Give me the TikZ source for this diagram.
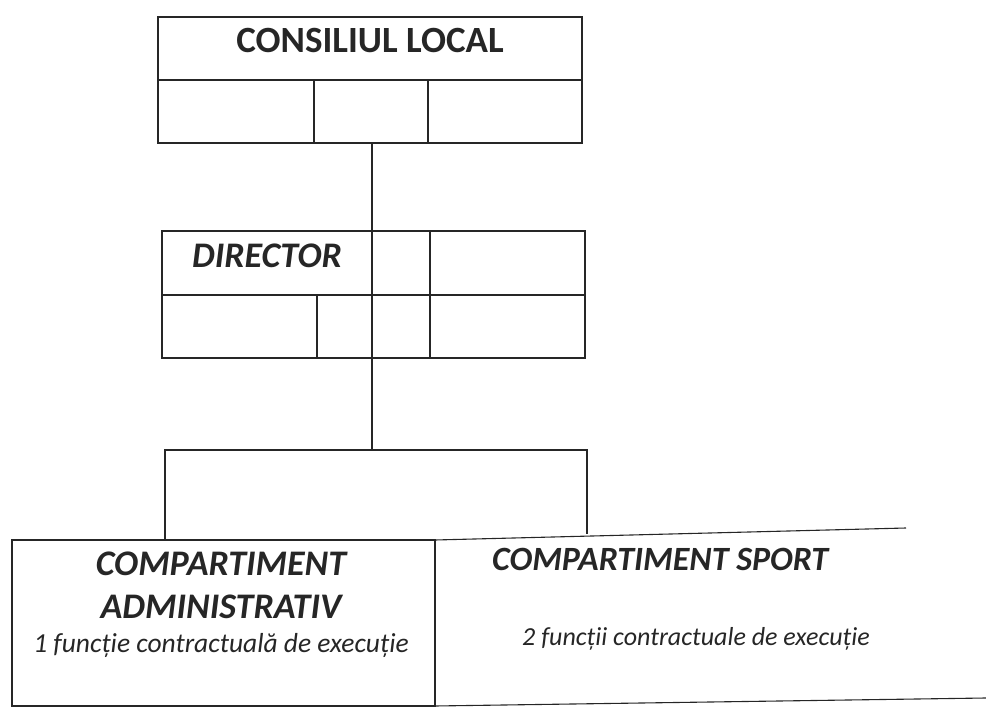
\documentclass[tikz,border=0pt]{standalone}
\usepackage{fontspec}
\setmainfont{Carlito}
\begin{document}
\begin{tikzpicture}[x=1pt,y=-1pt,
  ln/.style={line width=1.1pt, draw=black!85},
  box/.style={ln, rectangle, inner sep=0pt, outer sep=0pt, anchor=north west},
  big/.style={font=\fontsize{37}{42}\selectfont\bfseries, text=black!85, inner sep=0pt, anchor=base},
  bigit/.style={font=\fontsize{36}{41}\selectfont\bfseries\itshape, text=black!85, inner sep=0pt, anchor=base},
  small/.style={font=\fontsize{27.5}{32}\selectfont\itshape, text=black!85, inner sep=0pt, anchor=base}]
\useasboundingbox (0,0) rectangle (986,711);
% Consiliul local
\node[box, minimum width=424pt, minimum height=126pt] (cl) at (158,17) {};
\draw[ln] (158,80) -- (582,80);
\draw[ln] (314,80) -- (314,143);
\draw[ln] (428,80) -- (428,143);
\node[big] (clt) at (370,53) {CONSILIUL LOCAL};
% Director
\node[box, minimum width=423pt, minimum height=127pt] (dir) at (162,231) {};
\draw[ln] (162,295) -- (585,295);
\draw[ln] (430,231) -- (430,358);
\draw[ln] (317,295) -- (317,358);
\node[bigit] (dirt) at (267,268) {DIRECTOR};
% connector
\coordinate (br) at (372,450);
\draw[ln] (cl.south -| br) -- (br);
% bottom boxes
\node[box, minimum width=423pt, minimum height=166pt] (adm) at (12,540) {};
\coordinate (spne) at (906,528);
\coordinate (spse) at (986,698);
\draw[ln] (adm.north east) -- (spne);
\draw[ln] (adm.south east) -- (spse);
% bracket
\coordinate (bl) at (165,540);
\coordinate (brr) at (587,534);
\draw[ln] (bl) -- (bl |- br) -- (brr |- br) -- (brr);
\node[bigit] (admt1) at (221,575) {COMPARTIMENT};
\node[bigit] (admt2) at (221,618) {ADMINISTRATIV};
\node[small] (admt3) at (221,652) {1 funcție contractuală de execuție};
\node[bigit, anchor=base west, font=\fontsize{34}{40}\selectfont\bfseries\itshape] (spt1) at (492,570) {COMPARTIMENT SPORT};
\node[small, font=\fontsize{26}{31}\selectfont\itshape] (spt2) at (696,645) {2 funcții contractuale de execuție};
\end{tikzpicture}
\end{document}
